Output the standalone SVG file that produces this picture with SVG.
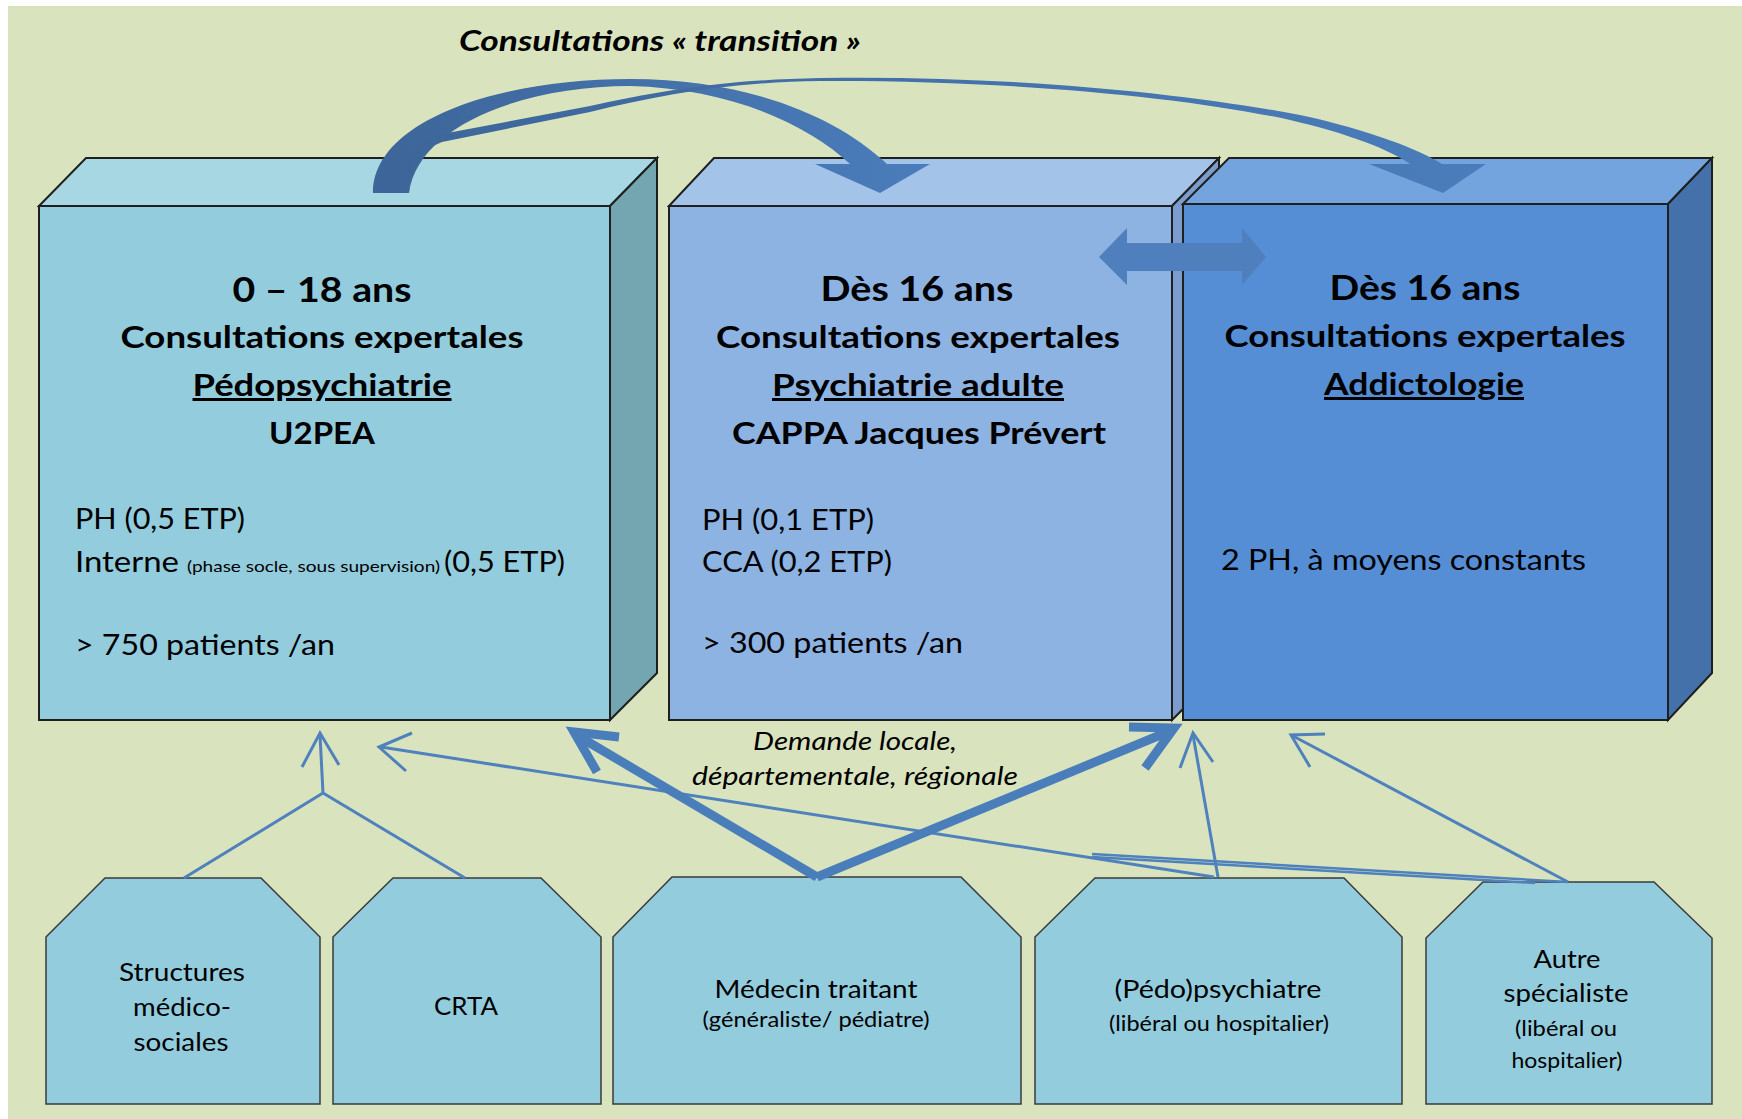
<svg xmlns="http://www.w3.org/2000/svg" width="1742" height="1119" viewBox="0 0 1742 1119">
<defs>
<style>
text{font-family:Lato,"Liberation Sans",sans-serif;fill:#000}
.h1{font-size:35px;font-weight:bold}
.h2{font-size:30px;font-weight:bold}
.b{font-size:28px}
.n{font-size:25px}
.s{font-size:21px}
.ul{text-decoration:underline}
.edge{stroke:#1f1f1f;stroke-width:2;stroke-linejoin:miter}
.thin{fill:none;stroke:#4f81bd;stroke-width:3}
.thick{fill:none;stroke:#4a7ebb;stroke-width:9;stroke-linejoin:miter}
.node{fill:#93cddd;stroke:#3a3a3a;stroke-width:1.5}
</style>
<linearGradient id="arcg" x1="0" y1="0" x2="1" y2="0">
<stop offset="0" stop-color="#3d6599"/>
<stop offset="1" stop-color="#4a7dbb"/>
</linearGradient>
</defs>
<rect x="0" y="0" width="1742" height="1119" fill="#ffffff"/>
<rect x="8" y="6" width="1734" height="1113" fill="#d9e4bf"/>

<text x="660" y="51" style="font-size:29px;font-weight:bold;font-style:italic" text-anchor="middle" textLength="402" lengthAdjust="spacingAndGlyphs">Consultations « transition »</text>

<g id="box1">
<polygon class="edge" points="39,206 86,158 657,158 610,206" fill="#a7d7e3"/>
<polygon class="edge" points="610,206 657,158 657,673 610,720" fill="#74a6b1"/>
<rect class="edge" x="39" y="206" width="571" height="514" fill="#93cddd"/>
<text class="h1" x="322" y="302" text-anchor="middle" textLength="179" lengthAdjust="spacingAndGlyphs">0 – 18 ans</text>
<text class="h2" x="322" y="348" text-anchor="middle" textLength="403" lengthAdjust="spacingAndGlyphs">Consultations expertales</text>
<text class="h2 ul" x="322" y="396" text-anchor="middle" textLength="259" lengthAdjust="spacingAndGlyphs">Pédopsychiatrie</text>
<text class="h2" x="322" y="444" text-anchor="middle" textLength="106" lengthAdjust="spacingAndGlyphs">U2PEA</text>
<text class="b" x="75" y="529" textLength="170" lengthAdjust="spacingAndGlyphs">PH (0,5 ETP)</text>
<text class="b" x="75" y="572" textLength="104" lengthAdjust="spacingAndGlyphs">Interne</text>
<text x="187" y="572" style="font-size:15px" textLength="253" lengthAdjust="spacingAndGlyphs">(phase socle, sous supervision)</text>
<text class="b" x="444" y="572" textLength="121" lengthAdjust="spacingAndGlyphs">(0,5 ETP)</text>
<text class="b" x="75" y="655" textLength="260" lengthAdjust="spacingAndGlyphs">&gt; 750 patients /an</text>
</g>

<g id="box2">
<polygon class="edge" points="669,206 714,158 1219,158 1172,206" fill="#a3c3e9"/>
<polygon class="edge" points="1172,206 1219,158 1219,673 1172,720" fill="#7b9ccc"/>
<rect class="edge" x="669" y="206" width="503" height="514" fill="#8db3e2"/>
<text class="h1" x="917" y="301" text-anchor="middle" textLength="193" lengthAdjust="spacingAndGlyphs">Dès 16 ans</text>
<text class="h2" x="918" y="348" text-anchor="middle" textLength="404" lengthAdjust="spacingAndGlyphs">Consultations expertales</text>
<text class="h2 ul" x="918" y="396" text-anchor="middle" textLength="292" lengthAdjust="spacingAndGlyphs">Psychiatrie adulte</text>
<text class="h2" x="919" y="444" text-anchor="middle" textLength="374" lengthAdjust="spacingAndGlyphs">CAPPA Jacques Prévert</text>
<text class="b" x="702" y="530" textLength="172" lengthAdjust="spacingAndGlyphs">PH (0,1 ETP)</text>
<text class="b" x="702" y="572" textLength="190" lengthAdjust="spacingAndGlyphs">CCA (0,2 ETP)</text>
<text class="b" x="702" y="653" textLength="261" lengthAdjust="spacingAndGlyphs">&gt; 300 patients /an</text>
</g>

<g id="box3">
<polygon class="edge" points="1183,204 1229,158 1712,158 1668,204" fill="#74a4dd"/>
<polygon class="edge" points="1668,204 1712,158 1712,673 1668,720" fill="#4571aa"/>
<rect class="edge" x="1183" y="204" width="485" height="516" fill="#558ed5"/>
<text class="h1" x="1425" y="300" text-anchor="middle" textLength="191" lengthAdjust="spacingAndGlyphs">Dès 16 ans</text>
<text class="h2" x="1425" y="347" text-anchor="middle" textLength="401" lengthAdjust="spacingAndGlyphs">Consultations expertales</text>
<text class="h2 ul" x="1424" y="395" text-anchor="middle" textLength="200" lengthAdjust="spacingAndGlyphs">Addictologie</text>
<text class="b" x="1221" y="570" textLength="365" lengthAdjust="spacingAndGlyphs">2 PH, à moyens constants</text>
</g>

<g id="n-structures">
<polygon class="node" points="46,937 105,878 261,878 320,937 320,1104 46,1104"/>
<text class="n" x="182" y="981" text-anchor="middle" textLength="126" lengthAdjust="spacingAndGlyphs">Structures</text>
<text class="n" x="182" y="1016" text-anchor="middle" textLength="98" lengthAdjust="spacingAndGlyphs">médico-</text>
<text class="n" x="181" y="1051" text-anchor="middle" textLength="95" lengthAdjust="spacingAndGlyphs">sociales</text>
</g>
<g id="n-crta">
<polygon class="node" points="333,937 393,878 541,878 601,937 601,1104 333,1104"/>
<text class="n" x="466" y="1015" text-anchor="middle" textLength="64" lengthAdjust="spacingAndGlyphs">CRTA</text>
</g>
<g id="n-medecin">
<polygon class="node" points="613,937 672,877 961,877 1021,937 1021,1104 613,1104"/>
<text class="n" x="816" y="998" text-anchor="middle" textLength="203" lengthAdjust="spacingAndGlyphs">Médecin traitant</text>
<text class="s" x="816" y="1027" text-anchor="middle" textLength="227" lengthAdjust="spacingAndGlyphs">(généraliste/ pédiatre)</text>
</g>
<g id="n-pedo">
<polygon class="node" points="1035,937 1095,878 1344,878 1402,937 1402,1104 1035,1104"/>
<text class="n" x="1218" y="998" text-anchor="middle" textLength="207" lengthAdjust="spacingAndGlyphs">(Pédo)psychiatre</text>
<text class="s" x="1219" y="1031" text-anchor="middle" textLength="220" lengthAdjust="spacingAndGlyphs">(libéral ou hospitalier)</text>
</g>
<g id="n-autre">
<polygon class="node" points="1426,938 1483,882 1654,882 1712,938 1712,1104 1426,1104"/>
<text class="n" x="1567" y="968" text-anchor="middle" textLength="67" lengthAdjust="spacingAndGlyphs">Autre</text>
<text class="n" x="1566" y="1002" text-anchor="middle" textLength="125" lengthAdjust="spacingAndGlyphs">spécialiste</text>
<text class="s" x="1566" y="1036" text-anchor="middle" textLength="102" lengthAdjust="spacingAndGlyphs">(libéral ou</text>
<text class="s" x="1567" y="1068" text-anchor="middle" textLength="111" lengthAdjust="spacingAndGlyphs">hospitalier)</text>
</g>

<g id="connectors">
<path fill="url(#arcg)" d="M373,193 C373,120 500,79 630,79 C745,79 835,115 887,164 L930,164 L880,193 L815,164 L850,164 C805,122 725,88 630,86 C525,86 418,125 409,193 Z"/>
<path fill="url(#arcg)" d="M373,193 C380,160 405,145 442,134 L590,106 C660,91 720,80 820,78 C1000,75 1180,92 1300,115 C1370,130 1420,150 1442,164 L1486,164 L1443,193 L1369,164 L1410,164 C1390,150 1350,134 1290,120 C1180,96 1000,80 820,81 C730,82 660,95 590,112 L442,142 C420,150 410,170 409,193 Z"/>
<polygon fill="#4f80bd" points="1099,257 1127,228 1127,243 1242,243 1242,228 1266,257 1242,285 1242,271 1127,271 1127,285"/>
<path class="thin" d="M184,878 L323,793 L465,878 M323,793 L320,735"/>
<path class="thin" d="M302,767 L320,733 L339,765"/>
<path class="thin" d="M1214,877 L381,747"/>
<path class="thin" d="M412,733 L379,747 L406,771"/>
<path class="thin" d="M1218,877 L1193,735"/>
<path class="thin" d="M1180,768 L1193,733 L1213,762"/>
<path class="thin" d="M1568,882 L1293,736"/>
<path class="thin" d="M1325,734 L1291,735 L1310,767"/>
<path fill="none" stroke="#4f81bd" stroke-width="2.5" d="M1092,854 L1568,882 M1092,857 L1535,883"/>
<path class="thick" d="M817,877 L578,736"/>
<path class="thick" d="M619,737 L574,732 L597,772"/>
<path class="thick" d="M817,877 L1170,731"/>
<path class="thick" d="M1129,727 L1174,728 L1145,768"/>
</g>

<text x="855" y="750" style="font-size:26px;font-style:italic" text-anchor="middle" textLength="204" lengthAdjust="spacingAndGlyphs">Demande locale,</text>
<text x="855" y="785" style="font-size:26px;font-style:italic" text-anchor="middle" textLength="326" lengthAdjust="spacingAndGlyphs">départementale, régionale</text>
</svg>
